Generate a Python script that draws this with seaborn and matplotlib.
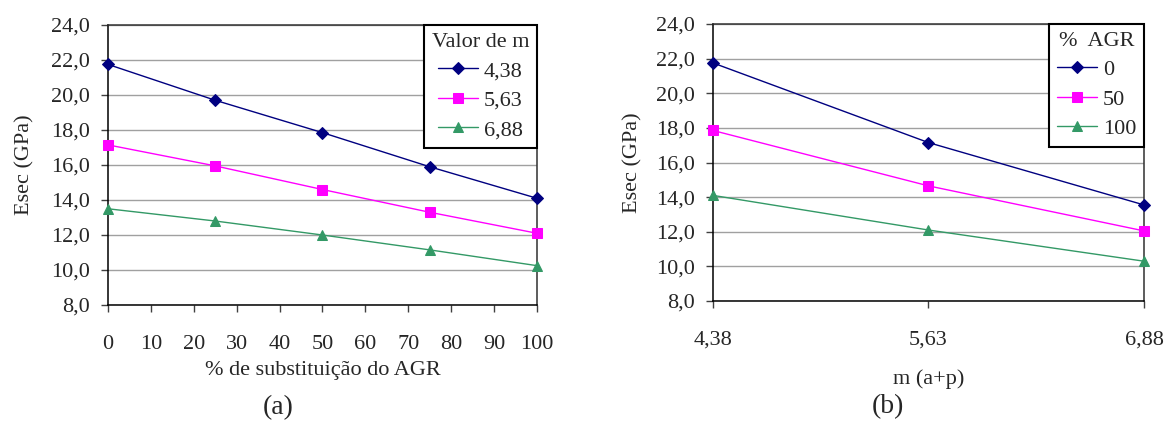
import numpy as np
import pandas as pd
import matplotlib
matplotlib.use("Agg")
import matplotlib.pyplot as plt
import seaborn as sns

# --- dados ---
pct_agr = [0, 25, 50, 75, 100]
m_values = [4.38, 5.63, 6.88]
m_labels = ["4,38", "5,63", "6,88"]

# (a) Esec vs % de substituição, uma série por m
esec_m438 = [21.75, 19.7, 17.85, 15.9, 14.1]
esec_m563 = [17.15, 15.95, 14.6, 13.3, 12.1]
esec_m688 = [13.5, 12.8, 12.0, 11.15, 10.25]

# (b) Esec vs m, uma série por % AGR
agr_series = ["0", "50", "100"]
esec_agr0 = [21.75, 17.15, 13.55]
esec_agr50 = [17.85, 14.65, 12.05]
esec_agr100 = [14.1, 12.1, 10.3]

colors = ["#000080", "#FF00FF", "#339966"]
markers = ["D", "s", "^"]
msizes = [6.5, 6.5, 7.5]
FS = 16

sns.set_style("white")
plt.rcParams["font.family"] = ["Liberation Serif", "DejaVu Serif"]
plt.rcParams["font.size"] = FS

fig = plt.figure(figsize=(11.66, 4.21), dpi=100)
ax_a = fig.add_axes([0.0926, 0.2755, 0.3679, 0.6651])
ax_b = fig.add_axes([0.6115, 0.2850, 0.3696, 0.6580])


def comma(v, nd=1):
    return f"{v:.{nd}f}".replace(".", ",")


def style_axes(ax, ylabelpad):
    ax.set_ylim(8, 24)
    ax.set_yticks(np.arange(8, 24.1, 2))
    ax.set_yticklabels([comma(v) for v in np.arange(8, 24.1, 2)])
    ax.yaxis.grid(True, color="#a0a0a0", linewidth=1.0)
    ax.xaxis.grid(False)
    for sp in ax.spines.values():
        sp.set_visible(True)
        sp.set_color("black")
        sp.set_linewidth(1.1)
    ax.spines["top"].set_color("#303030")
    ax.spines["right"].set_color("#303030")
    ax.tick_params(axis="x", direction="out", length=5, width=1, pad=16.5,
                   bottom=True, labelsize=FS, color="#404040")
    ax.tick_params(axis="y", direction="out", length=5, width=1, pad=8,
                   left=True, labelsize=FS, color="#404040")
    ax.set_ylabel("Esec (GPa)", fontsize=FS, labelpad=ylabelpad)


def draw(ax, df, labels):
    for i, lab in enumerate(labels):
        sns.lineplot(data=df[df["serie"] == lab], x="x", y="y", ax=ax,
                     color=colors[i], marker=markers[i], markersize=msizes[i],
                     markeredgecolor=colors[i], linewidth=1.0, label=lab,
                     clip_on=False, zorder=3)


# painel (a)
df_a = pd.DataFrame({
    "x": pct_agr * 3,
    "y": esec_m438 + esec_m563 + esec_m688,
    "serie": [m_labels[0]] * 5 + [m_labels[1]] * 5 + [m_labels[2]] * 5,
})
draw(ax_a, df_a, m_labels)
ax_a.set_xlim(0, 100)
ax_a.set_xticks(range(0, 101, 10))
ax_a.set_xlabel("% de substituição do AGR", fontsize=FS, labelpad=5)
style_axes(ax_a, 12)

# painel (b)
df_b = pd.DataFrame({
    "x": m_values * 3,
    "y": esec_agr0 + esec_agr50 + esec_agr100,
    "serie": [agr_series[0]] * 3 + [agr_series[1]] * 3 + [agr_series[2]] * 3,
})
draw(ax_b, df_b, agr_series)
ax_b.set_xlim(m_values[0], m_values[-1])
ax_b.set_xticks(m_values)
ax_b.set_xticklabels(m_labels)
ax_b.set_xlabel("m (a+p)", fontsize=FS, labelpad=14)
style_axes(ax_b, 10)

for ax, title in [(ax_a, "Valor de m"), (ax_b, "%  AGR")]:
    leg = ax.legend(title=title, loc="upper right", borderaxespad=0,
                    fancybox=False, framealpha=1, edgecolor="black",
                    fontsize=FS, title_fontsize=FS, handlelength=1.8,
                    handletextpad=0.25, labelspacing=0.4, borderpad=0.35)
    leg.get_frame().set_linewidth(1.5)
    leg.set_zorder(5)

fig.text(0.2384, 0.031, "(a)", fontsize=20, ha="center", va="center")
fig.text(0.7616, 0.033, "(b)", fontsize=20, ha="center", va="center")

fig.savefig("out.png", dpi=100)
